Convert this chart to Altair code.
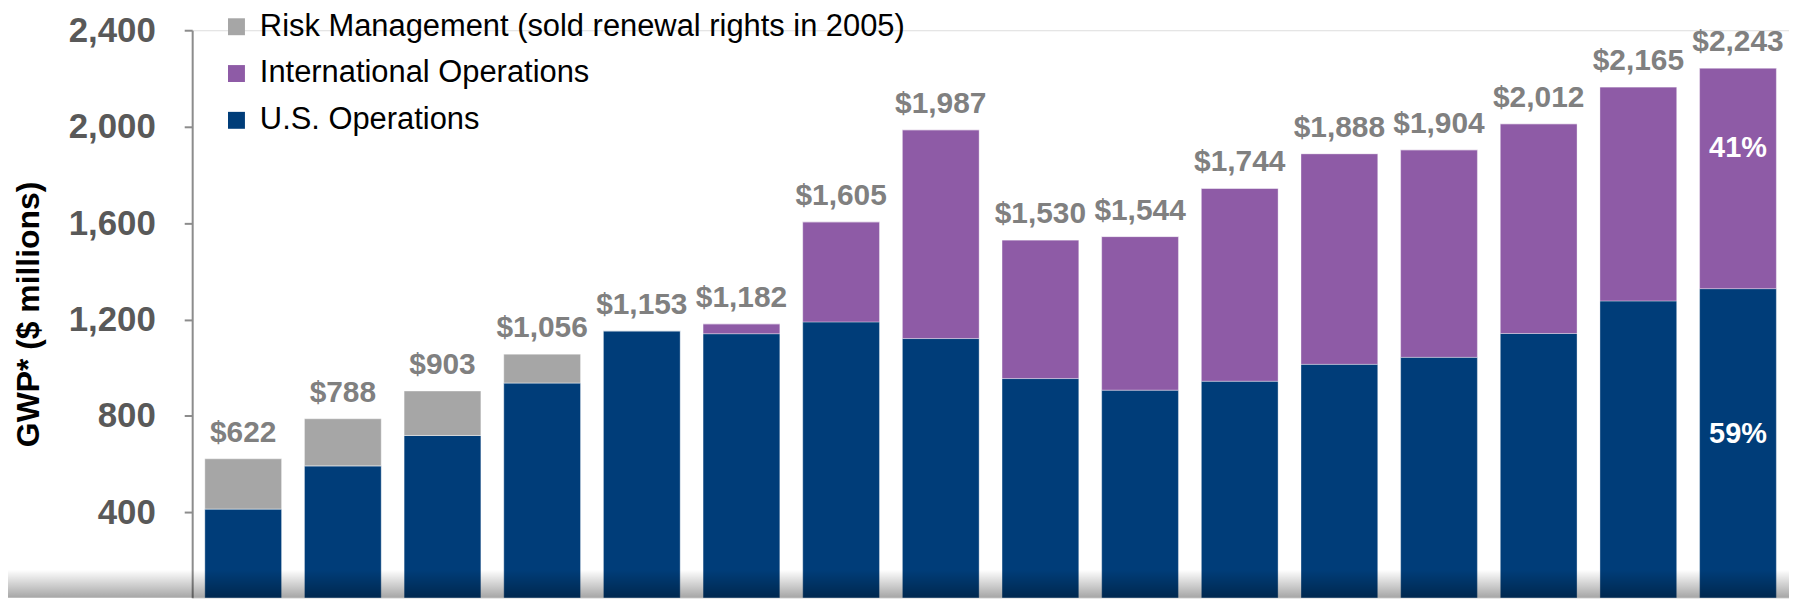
import altair as alt
import pandas as pd

years = [2001, 2002, 2003, 2004, 2005, 2006, 2007, 2008, 2009, 2010, 2011, 2012, 2013, 2014, 2015, 2016]
totals = [622, 788, 903, 1056, 1153, 1182, 1605, 1987, 1530, 1544, 1744, 1888, 1904, 2012, 2165, 2243]
us_ops = [414, 593, 719, 937, 1153, 1141, 1190, 1121, 955, 907, 944, 1014, 1043, 1142, 1277, 1328]
intl_ops = [0, 0, 0, 0, 0, 41, 415, 866, 575, 637, 800, 874, 861, 870, 888, 915]
risk_mgmt = [208, 195, 184, 119, 0, 0, 0, 0, 0, 0, 0, 0, 0, 0, 0, 0]
y_ticks = [400, 800, 1200, 1600, 2000, 2400]

series_names = ["Risk Management (sold renewal rights in 2005)", "International Operations", "U.S. Operations"]
series_colors = ["#a6a6a6", "#8e5ba6", "#003d79"]
stack_order = {"U.S. Operations": 0, "International Operations": 1,
               "Risk Management (sold renewal rights in 2005)": 2}

rows = []
for i, yr in enumerate(years):
    for name, vals in [("U.S. Operations", us_ops), ("International Operations", intl_ops),
                       ("Risk Management (sold renewal rights in 2005)", risk_mgmt)]:
        rows.append({"year": str(yr), "series": name, "value": vals[i], "ord": stack_order[name]})
bars_df = pd.DataFrame(rows)

tot_df = pd.DataFrame({"year": [str(y) for y in years], "total": totals,
                       "label": ["$" + format(t, ",") for t in totals]})

last = len(years) - 1
us_pct = round(us_ops[last] / totals[last] * 100)
intl_pct = 100 - us_pct
pct_us_df = pd.DataFrame({"year": [str(years[last])], "y": [us_ops[last] / 2], "label": [f"{us_pct}%"]})
pct_intl_df = pd.DataFrame({"year": [str(years[last])], "y": [us_ops[last] + intl_ops[last] / 2],
                            "label": [f"{intl_pct}%"]})

FONT = "Liberation Sans"
W, H = 1604, 570
ydom = [46, 2400]

xscale = alt.Scale(paddingInner=0.23, paddingOuter=0.127)
yscale = alt.Scale(domain=ydom, nice=False, zero=False)

bars = alt.Chart(bars_df).mark_bar(clip=True, stroke="white", strokeOpacity=0.35, strokeWidth=1).encode(
    x=alt.X("year:N", axis=None, scale=xscale),
    y=alt.Y("value:Q", stack="zero", scale=yscale,
            axis=alt.Axis(values=y_ticks, format=",d", grid=False,
                          labelFont=FONT, labelFontSize=35, labelFontWeight="bold", labelColor="#595959",
                          labelPadding=29, tickSize=8, tickWidth=2, tickColor="#8c8c8c",
                          domainColor="#8c8c8c", domainWidth=2,
                          title="GWP* ($ millions)", titleFont=FONT, titleFontSize=32,
                          titleFontWeight="bold", titleColor="#000000", titlePadding=23)),
    color=alt.Color("series:N", scale=alt.Scale(domain=series_names, range=series_colors),
                    legend=alt.Legend(title=None, orient="none", legendX=29, legendY=-19,
                                      symbolType="square", symbolSize=289, symbolStrokeWidth=0,
                                      labelFont=FONT, labelFontSize=31, labelColor="#000000",
                                      labelLimit=1000, rowPadding=15, labelOffset=8, padding=0)),
    order=alt.Order("ord:Q"),
)

tot_text = alt.Chart(tot_df).mark_text(font=FONT, fontSize=30, fontWeight="bold", color="#808080",
                                       baseline="alphabetic", dy=-17).encode(
    x=alt.X("year:N", axis=None, scale=xscale),
    y=alt.Y("total:Q", scale=yscale),
    text="label:N",
)

pct_us = alt.Chart(pct_us_df).mark_text(font=FONT, fontSize=29, fontWeight="bold", color="white",
                                        baseline="middle", dy=-15).encode(
    x=alt.X("year:N"), y=alt.Y("y:Q", scale=yscale), text="label:N")
pct_intl = alt.Chart(pct_intl_df).mark_text(font=FONT, fontSize=29, fontWeight="bold", color="white",
                                            baseline="middle", dy=-30).encode(
    x=alt.X("year:N"), y=alt.Y("y:Q", scale=yscale), text="label:N")

shade = alt.Chart(pd.DataFrame({"a": [0]})).mark_rect(
    color=alt.LinearGradient(gradient="linear",
                             stops=[alt.GradientStop(color="rgba(0,0,0,0)", offset=0),
                                    alt.GradientStop(color="rgba(0,0,0,0.35)", offset=1)],
                             x1=0, x2=0, y1=0, y2=1)
).encode(x=alt.value(-193), x2=alt.value(W), y=alt.value(H - 28), y2=alt.value(H))

chart = alt.layer(bars, tot_text, pct_us, pct_intl, shade).properties(
    width=W, height=H,
    autosize=alt.AutoSizeParams(type="none"),
    padding={"left": 185, "top": 21, "right": 0, "bottom": 0},
).configure_view(strokeWidth=0).configure(background="white")

chart.save("out.html", embed_options={"renderer": "svg", "actions": False})
